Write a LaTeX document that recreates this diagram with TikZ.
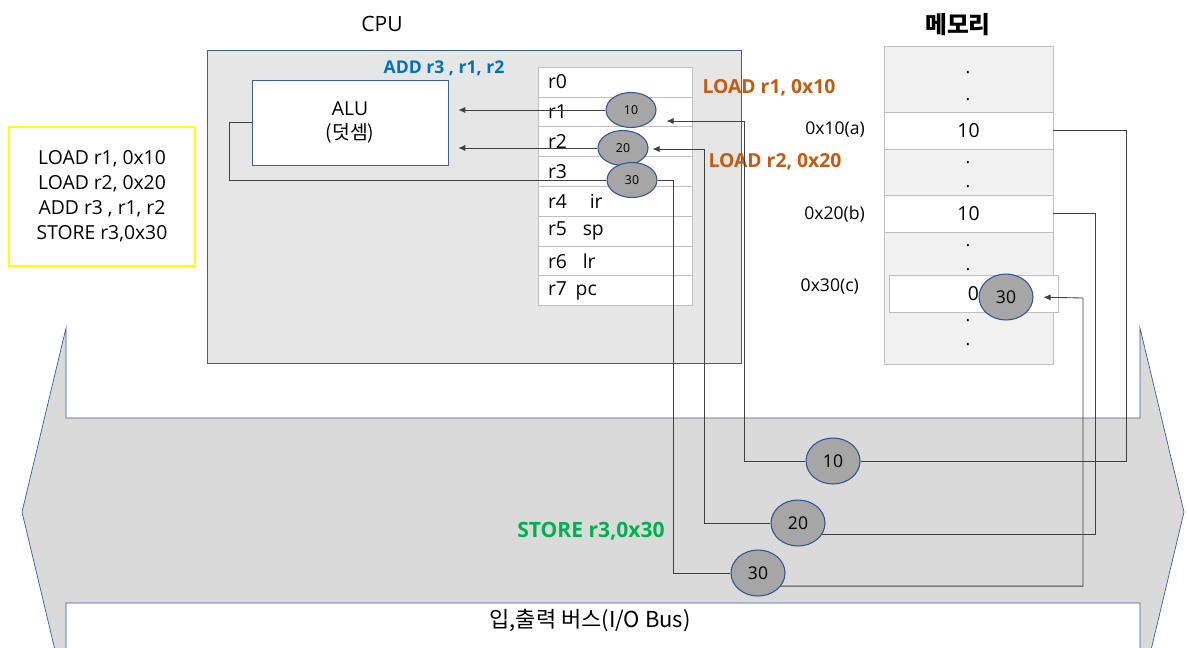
\documentclass[tikz,border=0pt]{standalone}
\usepackage{fontspec}
\setmainfont{Open Sans}
\newfontfamily\krfont{Noto Sans CJK KR}
\usetikzlibrary{positioning,shapes.geometric,arrows.meta}
\definecolor{cpufill}{HTML}{E7E6E6}
\definecolor{busfill}{HTML}{DADADA}
\definecolor{edgeblue}{HTML}{3A5E9E}
\definecolor{valblue}{HTML}{2F5597}
\definecolor{cellgray}{HTML}{BFBFBF}
\definecolor{memfill}{HTML}{F2F2F2}
\definecolor{valgray}{HTML}{A6A6A6}
\definecolor{wire}{HTML}{404040}
\definecolor{addblue}{HTML}{0070C0}
\definecolor{loadorange}{HTML}{C55A11}
\definecolor{storegreen}{HTML}{00B050}
\definecolor{noteyellow}{HTML}{FFFF00}

\begin{document}
\begin{tikzpicture}[x=0.02cm,y=-0.02cm,
  wire/.style={draw=wire,line width=0.5pt},
  tip/.style={wire,-{Latex[length=4pt,width=3.5pt]}},
  regbox/.style={draw=cellgray,fill=white,minimum width=3.08cm,minimum height=0.596cm,
    text width=2.68cm,inner xsep=0.2cm,inner ysep=0pt,outer sep=0pt,align=left,
    font=\fontsize{11}{13}\selectfont},
  cell/.style={draw=cellgray,fill=white,minimum width=3.38cm,minimum height=0.74cm,
    font=\fontsize{11}{13}\selectfont},
  val/.style={ellipse,draw=valblue,fill=valgray,inner sep=0pt,line width=0.6pt},
  smallval/.style={val,minimum width=1.0cm,minimum height=0.7cm,font=\fontsize{7}{8}\selectfont},
  busval/.style={val,minimum width=1.08cm,minimum height=0.92cm,font=\fontsize{10}{12}\selectfont},
  addr/.style={anchor=east,font=\fontsize{10}{12}\selectfont},
  memdot/.style={anchor=base,inner sep=0pt,font=\fontsize{10}{12}\selectfont},
  op/.style={font=\bfseries\fontsize{11}{13}\selectfont}]
  \useasboundingbox (0,0) rectangle (1189,647);
  \fill[white] (0,0) rectangle (1189,647);
  \begin{scope}
    \clip (0,0) rectangle (1189,647);
    \draw[draw=edgeblue,fill=busfill] (66,328) -- (66,418) -- (1140,418) -- (1140,328)
      -- (1184,512) -- (1140,696) -- (1140,603) -- (66,603) -- (66,696) -- (22,512) -- cycle;
  \end{scope}
  \node[font=\krfont\fontsize{12.5}{15}\selectfont] (bus) at (590,620) {입,출력 버스(I/O Bus)};

  \node[draw=noteyellow,line width=1.5pt,minimum width=3.72cm,minimum height=2.78cm,
    align=center,font=\fontsize{11}{14.2}\selectfont] (prog) at (102,196.5)
    {LOAD r1, 0x10\\LOAD r2, 0x20\\ADD r3 , r1, r2\\STORE r3,0x30};

  \draw[draw=edgeblue,fill=cpufill] (207,50) rectangle (741,363);
  \node[font=\fontsize{12}{14}\selectfont] (cpu) at (382,24) {CPU};
  \node[draw=edgeblue,fill=white,minimum width=3.92cm,minimum height=1.7cm,align=center,
    font=\fontsize{11}{14}\selectfont] (alu) at (350,122.5) {ALU\\{\krfont(덧셈)}};
  \node[text=addblue,font=\bfseries\fontsize{10}{12}\selectfont] (add) at (444,68) {ADD r3 , r1, r2};

  \node[regbox] (r0) at (615,82) {r0};
  \node[regbox,below=0pt of r0] (r1) {r1};
  \node[regbox,below=0pt of r1] (r2) {r2};
  \node[regbox,below=0pt of r2] (r3) {r3};
  \node[regbox,below=0pt of r3] (r4) {r4\hspace{13pt}ir};
  \node[regbox,below=0pt of r4] (r5) {r5\hspace{9pt}sp};
  \node[regbox,below=0pt of r5] (r6) {r6\hspace{9pt}lr};
  \node[regbox,below=0pt of r6] (r7) {r7\hspace{5pt}pc};

  \node[smallval] (e1) at (631,110) {10};
  \node[smallval] (e2) at (623,148) {20};
  \node[smallval] (e3) at (632,180) {30};

  \node[op,text=loadorange] (ld1) at (769,88) {LOAD r1, 0x10};
  \node[op,text=loadorange] (ld2) at (775,162) {LOAD r2, 0x20};
  \node[text=storegreen,font=\bfseries\fontsize{12}{14}\selectfont] (st) at (591,531) {STORE r3,0x30};

  \node[font=\krfont\bfseries\fontsize{13.5}{16}\selectfont] (mem) at (958,25) {메모리};
  \draw[draw=cellgray,fill=memfill] (884,46) rectangle (1053,364);
  \node[cell] (m10) at (968.5,130.5) {10};
  \node[cell] (m20) at (968.5,213.5) {10};
  \node[cell] (m30) at (973.5,294) {0};
  \node[busval] (mv) at (1006,297) {30};
  \foreach \y in {72,99,162,186,245,269,320,344}
    \node[memdot] at (968,\y+1) {.};
  \node[addr] (a10) at (871,130) {0x10(a)};
  \node[addr] (a20) at (871,214) {0x20(b)};
  \node[addr] (a30) at (865,287) {0x30(c)};

  \node[busval] (b1) at (833,461) {10};
  \node[busval] (b2) at (798,523) {20};
  \node[busval] (b3) at (758,573) {30};

  \coordinate (c1) at (744,121);
  \coordinate (c2) at (704,149);
  \coordinate (c6) at (1083,298);
  \draw[tip,shorten >=0.2cm] (e1.west) -- (e1.west -| alu.east);
  \draw[tip,shorten >=0.2cm] (e2.west) -- (e2.west -| alu.east);
  \draw[wire] (alu.west) -- ++(-22,0) |- (e3.west);
  \draw[wire] (e3.east) -- ++(16,0) |- (b3.west);
  \draw[tip,shorten >=0.2cm] (b1.west) -| (c1) -- (c1 -| e1.east);
  \draw[tip,shorten >=0.08cm] (b2.west) -| (c2) -- (c2 -| e2.east);
  \draw[wire] (m10.east) -- ++(73,0) |- (b1.east);
  \draw[wire] (m20.east) -- ++(42,0) |- (b2.-25);
  \draw[tip,shorten >=0.2cm] (b3.-30) -| (c6) -- (mv.east);
\end{tikzpicture}
\end{document}
